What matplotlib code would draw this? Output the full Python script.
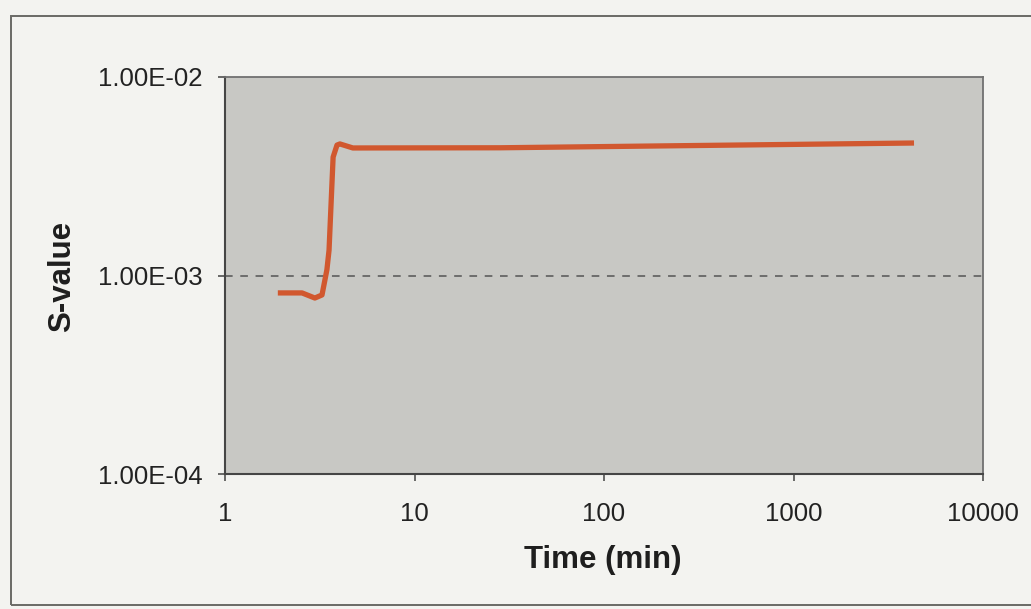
import matplotlib
matplotlib.use("Agg")
import matplotlib.pyplot as plt
from matplotlib.patches import Rectangle
from matplotlib.ticker import FixedLocator, FixedFormatter, NullLocator

plt.rcParams['font.family'] = ['Liberation Sans', 'DejaVu Sans']

# S-value versus elapsed time
time_min = [1.9, 2.55, 2.98, 3.25, 3.45, 3.54, 3.72, 3.90, 4.04, 4.73, 28.3, 4325]
s_value = [8.17e-4, 8.17e-4, 7.7e-4, 7.98e-4, 1.07e-3, 1.34e-3, 3.95e-3,
           4.54e-3, 4.6e-3, 4.39e-3, 4.4e-3, 4.65e-3]

x_ticks = [1, 10, 100, 1000, 10000]
x_tick_labels = ["1", "10", "100", "1000", "10000"]
y_ticks = [1e-4, 1e-3, 1e-2]
y_tick_labels = ["1.00E-04", "1.00E-03", "1.00E-02"]

fig = plt.figure(figsize=(10.31, 6.09), dpi=100, facecolor="#f3f3f0")
W, H = 1031, 609
left, right, top, bottom = 225, 983, 77, 474
ax = fig.add_axes([left / W, 1 - bottom / H, (right - left) / W, (bottom - top) / H])
ax.set_facecolor("#c8c8c4")

ax.set_xscale("log")
ax.set_yscale("log")
ax.set_xlim(1, 10000)
ax.set_ylim(1e-4, 1e-2)

ax.plot(time_min, s_value, color="#d1582f", lw=3.8, solid_joinstyle="round",
        solid_capstyle="butt", zorder=3)

ax.axhline(1e-3, color="#555555", lw=1.1, ls=(0, (5, 5)), zorder=2)

ax.xaxis.set_major_locator(FixedLocator(x_ticks))
ax.xaxis.set_major_formatter(FixedFormatter(x_tick_labels))
ax.yaxis.set_major_locator(FixedLocator(y_ticks))
ax.yaxis.set_major_formatter(FixedFormatter(y_tick_labels))
ax.xaxis.set_minor_locator(NullLocator())
ax.yaxis.set_minor_locator(NullLocator())

ax.tick_params(axis="x", direction="out", length=5, width=1.2, color="#505050",
               labelsize=18.5, pad=15, labelcolor="#222222")
ax.tick_params(axis="y", direction="out", length=5, width=1.2, color="#505050",
               labelsize=18.5, pad=11, labelcolor="#222222")

for side in ("left", "bottom"):
    ax.spines[side].set_color("#454545")
    ax.spines[side].set_linewidth(1.5)
for side in ("top", "right"):
    ax.spines[side].set_color("#707070")
    ax.spines[side].set_linewidth(1.3)

fig.text(603 / W, 1 - 560 / H, "Time (min)", ha="center", va="center",
         fontsize=22.5, fontweight="bold", color="#1e1e1e")
fig.text(62 / W, 1 - 276 / H, "S-value", ha="center", va="center",
         rotation=90, fontsize=22.5, fontweight="bold", color="#1e1e1e")

# Chart frame, its right side runs past the figure edge
fig.patches.append(Rectangle((11 / W, 1 - 605 / H), 1.2, (605 - 16) / H,
                             transform=fig.transFigure, fill=False,
                             edgecolor="#6a6a66", lw=1.4))

fig.savefig("out.png", dpi=100, facecolor=fig.get_facecolor())
